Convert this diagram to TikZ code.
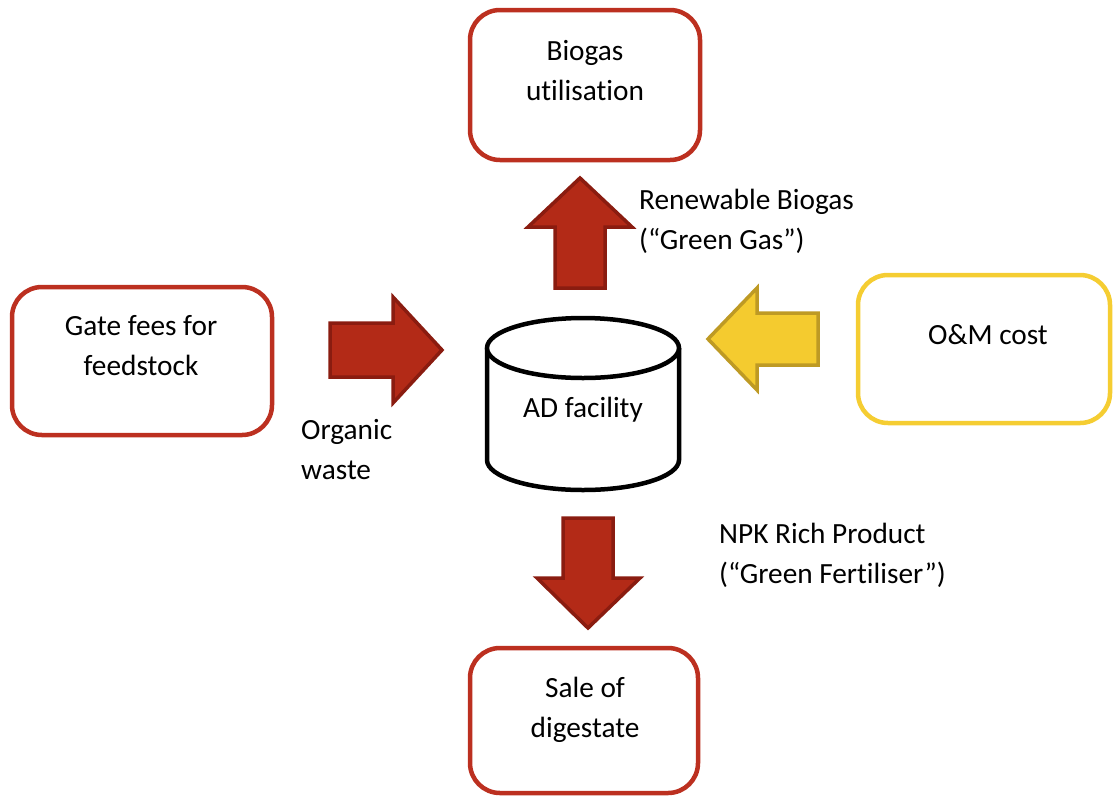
\documentclass[tikz,border=0pt]{standalone}
\usepackage{fontspec}
\setmainfont[Ligatures={NoCommon}]{Carlito}
\definecolor{boxred}{HTML}{BC3020}
\definecolor{arrred}{HTML}{B32A17}
\definecolor{arredge}{HTML}{8A1C10}
\definecolor{boxyel}{HTML}{F5CD32}
\definecolor{arryel}{HTML}{F4CB2F}
\definecolor{yeledge}{HTML}{BE9A24}
\tikzset{
  rbox/.style={draw=boxred, line width=4.5pt, rounded corners=30pt, fill=white},
  ybox/.style={draw=boxyel, line width=4.5pt, rounded corners=30pt, fill=white},
  lbl/.style={font=\fontsize{29.3pt}{40pt}\selectfont, align=center, inner sep=0pt},
  llbl/.style={font=\fontsize{29.3pt}{40pt}\selectfont, align=left, inner sep=0pt, anchor=west},
  redarrow/.style={fill=arrred, draw=arredge, line width=3.5pt, line join=miter},
  yelarrow/.style={fill=arryel, draw=yeledge, line width=3.5pt, line join=miter},
}
\begin{document}
\begin{tikzpicture}[x=1pt,y=-1pt]
\useasboundingbox (0,0) rectangle (1113,796);
% boxes
\draw[rbox] (470,10) rectangle (700,160);
\node[lbl] (biogas) at (585,71) {Biogas\\utilisation};
\draw[rbox] (12,287) rectangle (272,435);
\node[lbl] (gate) at (141,346) {Gate fees for\\feedstock};
\draw[ybox] (858,275) rectangle (1110,423);
\node[lbl] (om) at (988,335) {O\&M cost};
\draw[rbox] (470,648) rectangle (698,793);
\node[lbl] (sale) at (585,710) {Sale of\\digestate};
% cylinder
\draw[line width=4.5pt] (487,348) -- (487,460) arc[start angle=180,end angle=0,x radius=96,y radius=30] -- (679,348);
\draw[line width=4.5pt, fill=white] (583,348) ellipse[x radius=96, y radius=30];
\node[lbl] (ad) at (583,410) {AD facility};
% arrows
\draw[redarrow] (330,323) -- (393,323) -- (393,297) -- (442,350) -- (393,403) -- (393,377) -- (330,377) -- cycle;
\draw[yelarrow] (818,313) -- (757,313) -- (757,288) -- (708,339) -- (757,390) -- (757,365) -- (818,365) -- cycle;
\draw[redarrow] (555,288) -- (555,227) -- (528,227) -- (580,178) -- (632,227) -- (605,227) -- (605,288) -- cycle;
\draw[redarrow] (563,518) -- (563,578) -- (537,578) -- (588,628) -- (640,578) -- (613,578) -- (613,518) -- cycle;
% labels
\node[llbl] (renew) at (639,221) {Renewable Biogas\\(“Green Gas”)};
\node[llbl] (organic) at (301,450) {Organic\\waste};
\node[llbl] (npk) at (719,555) {NPK Rich Product\\(“Green Fertiliser”)};
\end{tikzpicture}
\end{document}
